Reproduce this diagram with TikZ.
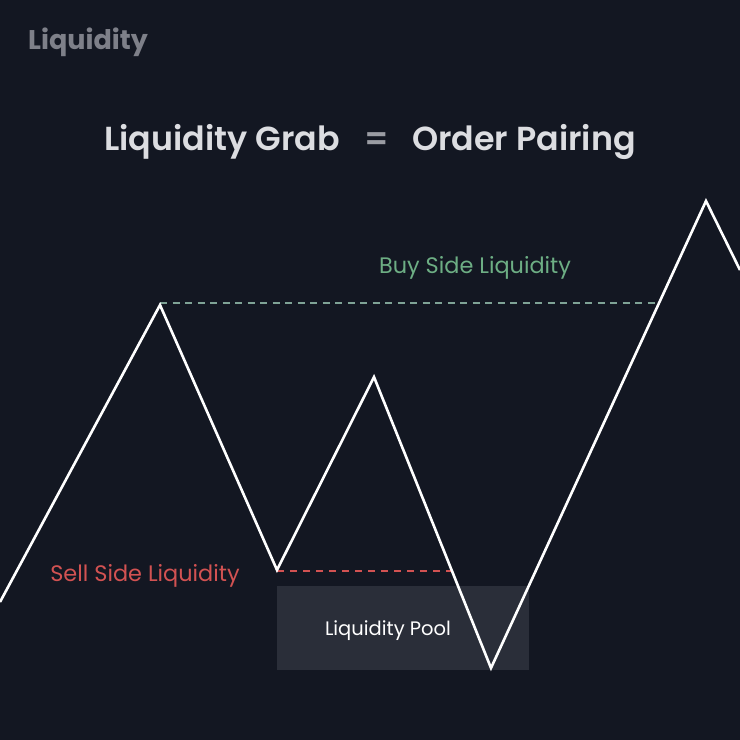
\documentclass[tikz,border=0pt]{standalone}
\usepackage{fontspec}
\setmainfont{Poppins}
\newfontfamily\popsemi{Poppins SemiBold}
\newfontfamily\popbold{Poppins Bold}
\definecolor{bg}{HTML}{131722}
\definecolor{pool}{HTML}{2A2E39}
\definecolor{buyc}{HTML}{6DAE84}
\definecolor{buydash}{HTML}{7FA396}
\definecolor{sellc}{HTML}{D25252}
\definecolor{titlec}{HTML}{DCDDE1}
\definecolor{tagc}{HTML}{7E8089}
\tikzset{
  zig/.style={draw=white, line width=2.6pt, line join=miter},
  buyline/.style={draw=buydash, line width=1.2pt, dash pattern=on 7pt off 5.5pt},
  sellline/.style={draw=sellc, line width=1.2pt, dash pattern=on 7pt off 6pt},
  lbl/.style={inner sep=0pt, anchor=center},
  titlefont/.style={font=\popsemi\fontsize{33.3}{38}\selectfont},
}
\begin{document}
\begin{tikzpicture}[x=1pt, y=-1pt]
\fill[bg] (0,0) rectangle (740,740);
\useasboundingbox (0,0) rectangle (740,740);
% liquidity pool box
\node[fill=pool, minimum width=252pt, minimum height=84pt, inner sep=0pt, anchor=north west] (pool) at (277,586) {};
\node[lbl, text=white, font=\fontsize{19.5}{23}\selectfont] (pooltxt) at (388,630.5) {Liquidity Pool};
% points
\coordinate (s) at (0,602);
\coordinate (p1) at (160,305);
\coordinate (t1) at (277,570);
\coordinate (p2) at (374,377);
\coordinate (t2) at (491,668);
\coordinate (p3) at (706,201);
\coordinate (e) at (740,270);
\coordinate (buyend) at (656,303);
\coordinate (sellend) at (452,571);
% dashed levels
\draw[buyline] (p1 |- buyend) -- (buyend);
\draw[sellline] (t1 |- sellend) -- (sellend);
% zigzag
\draw[zig] (s) -- (p1) -- (t1) -- (p2) -- (t2) -- (p3) -- (e);
% texts
\node[lbl, text=tagc, font=\popbold\fontsize{27}{30}\selectfont] (tag) at (88,42) {Liquidity};
\node[inner sep=0pt, text=titlec, titlefont, anchor=base east] (t1txt) at (340,150) {Liquidity Grab};
\node[inner sep=0pt, text=tagc!70!titlec, titlefont, anchor=base] (eq) at (377,150) {=};
\node[inner sep=0pt, text=titlec, titlefont, anchor=base west] (t2txt) at (412,150) {Order Pairing};
\node[lbl, text=buyc, font=\fontsize{22.4}{26}\selectfont] (buytxt) at (475,268) {Buy Side Liquidity};
\node[lbl, text=sellc, font=\fontsize{22.4}{26}\selectfont] (selltxt) at (145,575.5) {Sell Side Liquidity};
\end{tikzpicture}
\end{document}
